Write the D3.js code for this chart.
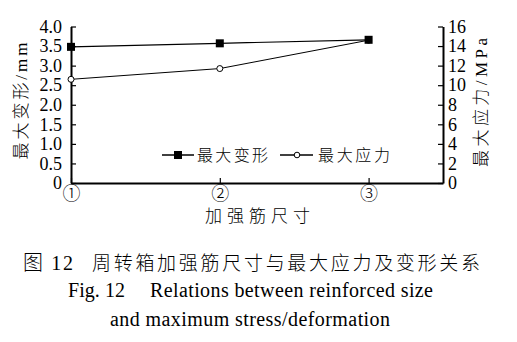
<!DOCTYPE html>
<html>
<head>
<meta charset="utf-8">
<script src="https://cdn.jsdelivr.net/npm/d3@7"></script>
<style>
  body { margin: 0; background: #fff; }
  text { font-family: "Liberation Serif", "Noto Sans CJK SC", serif; fill: #000; }
  .cjk { font-weight: 300; }
</style>
</head>
<body>
<svg id="chart"></svg>
<script>
const width = 517;
const height = 342;

// data
const categories = ['①', '②', '③'];
const deformation = [3.48, 3.57, 3.66];   // mm, left axis
const stress = [10.6, 11.7, 14.6];        // MPa, right axis
const leftTicks = [0, 0.5, 1.0, 1.5, 2.0, 2.5, 3.0, 3.5, 4.0];
const rightTicks = [0, 2, 4, 6, 8, 10, 12, 14, 16];
const seriesNames = ['最大变形', '最大应力'];

const svg = d3.select('svg#chart').attr('width', width).attr('height', height);

const plot = { left: 71, right: 443, top: 26.5, bottom: 183 };

var xScale = d3.scaleLinear()
  .domain([0, 2.5])
  .range([plot.left, plot.right]);

var yLeft = d3.scaleLinear()
  .domain([0, 4])
  .range([plot.bottom, plot.top]);

var yRight = d3.scaleLinear()
  .domain([0, 16])
  .range([plot.bottom, plot.top]);

// axes, ticks pointing inward
var xAxis = svg.append('g')
  .attr('transform', 'translate(0,' + plot.bottom + ')')
  .call(d3.axisBottom(xScale)
    .tickValues([0, 1, 2])
    .tickFormat(i => categories[i])
    .tickSizeInner(-5).tickSizeOuter(0).tickPadding(4));
xAxis.selectAll('text').style('font-size', '18px').style('font-family', '"Noto Sans CJK SC", sans-serif')
  .style('font-weight', 300).attr('dy', '0.72em');

var leftAxis = svg.append('g')
  .attr('transform', 'translate(' + plot.left + ',0)')
  .call(d3.axisLeft(yLeft)
    .tickValues(leftTicks)
    .tickFormat(d => d === 0 ? '0' : d3.format('.1f')(d))
    .tickSizeInner(-5).tickSizeOuter(0).tickPadding(9));
leftAxis.selectAll('text').style('font-size', '18px');

var rightAxis = svg.append('g')
  .attr('transform', 'translate(' + plot.right + ',0)')
  .call(d3.axisRight(yRight)
    .tickValues(rightTicks)
    .tickSizeInner(-5).tickSizeOuter(0).tickPadding(5));
rightAxis.selectAll('text').style('font-size', '18px');

svg.selectAll('.domain').attr('stroke', '#000').attr('stroke-width', 2);
svg.selectAll('.tick line').attr('stroke', '#000').attr('stroke-width', 1.2);

// lines
var lineDef = d3.line().x((d, i) => xScale(i)).y(d => yLeft(d));
var lineStr = d3.line().x((d, i) => xScale(i)).y(d => yRight(d));

svg.append('path').datum(stress)
  .attr('d', lineStr).attr('fill', 'none').attr('stroke', '#000').attr('stroke-width', 1);
svg.append('path').datum(deformation)
  .attr('d', lineDef).attr('fill', 'none').attr('stroke', '#000').attr('stroke-width', 1.2);

svg.append('g').selectAll('circle').data(stress)
  .enter().append('circle')
  .attr('cx', (d, i) => xScale(i))
  .attr('cy', d => yRight(d))
  .attr('r', 3)
  .attr('fill', '#fff').attr('stroke', '#000').attr('stroke-width', 1);

svg.append('g').selectAll('rect').data(deformation)
  .enter().append('rect')
  .attr('x', (d, i) => xScale(i) - 4)
  .attr('y', d => yLeft(d) - 4)
  .attr('width', 8).attr('height', 8)
  .attr('fill', '#000');

// legend
var legend = svg.append('g').attr('transform', 'translate(0,155)');
legend.append('line').attr('x1', 162).attr('x2', 194).attr('stroke', '#000').attr('stroke-width', 1.5);
legend.append('rect').attr('x', 174).attr('y', -4).attr('width', 8).attr('height', 8).attr('fill', '#000');
legend.append('text').attr('class', 'cjk').attr('x', 197).attr('y', 6).style('font-size', '16px')
  .attr('textLength', 71).attr('lengthAdjust', 'spacing').text(seriesNames[0]);
legend.append('line').attr('x1', 280).attr('x2', 313).attr('stroke', '#000').attr('stroke-width', 1.5);
legend.append('circle').attr('cx', 297).attr('cy', 0).attr('r', 2.8)
  .attr('fill', '#fff').attr('stroke', '#000');
legend.append('text').attr('class', 'cjk').attr('x', 318).attr('y', 6).style('font-size', '16px')
  .attr('textLength', 72).attr('lengthAdjust', 'spacing').text(seriesNames[1]);

// axis titles
svg.append('text').attr('class', 'cjk')
  .attr('transform', 'translate(27,101) rotate(-90)')
  .attr('text-anchor', 'middle').style('font-size', '17px')
  .attr('textLength', 117).attr('lengthAdjust', 'spacing')
  .text('最大变形/mm');

svg.append('text').attr('class', 'cjk')
  .attr('transform', 'translate(487,102.5) rotate(-90)')
  .attr('text-anchor', 'middle').style('font-size', '17px')
  .attr('textLength', 129).attr('lengthAdjust', 'spacing')
  .text('最大应力/MPa');

svg.append('text').attr('class', 'cjk')
  .attr('x', 205).attr('y', 222).style('font-size', '17px')
  .attr('textLength', 105).attr('lengthAdjust', 'spacing')
  .text('加强筋尺寸');

// caption
svg.append('text').attr('class', 'cjk').attr('x', 23).attr('y', 270).style('font-size', '20px')
  .attr('textLength', 50).attr('lengthAdjust', 'spacing').text('图 12');
svg.append('text').attr('class', 'cjk').attr('x', 92).attr('y', 270).style('font-size', '19px')
  .attr('textLength', 388).attr('lengthAdjust', 'spacing').text('周转箱加强筋尺寸与最大应力及变形关系');
svg.append('text').attr('x', 68).attr('y', 297).style('font-size', '20px')
  .attr('textLength', 57).attr('lengthAdjust', 'spacing').text('Fig. 12');
svg.append('text').attr('x', 150).attr('y', 297).style('font-size', '20px')
  .attr('textLength', 283).attr('lengthAdjust', 'spacing').text('Relations between reinforced size');
svg.append('text').attr('x', 110).attr('y', 326).style('font-size', '20px')
  .attr('textLength', 280).attr('lengthAdjust', 'spacing').text('and maximum stress/deformation');
</script>
</body>
</html>
